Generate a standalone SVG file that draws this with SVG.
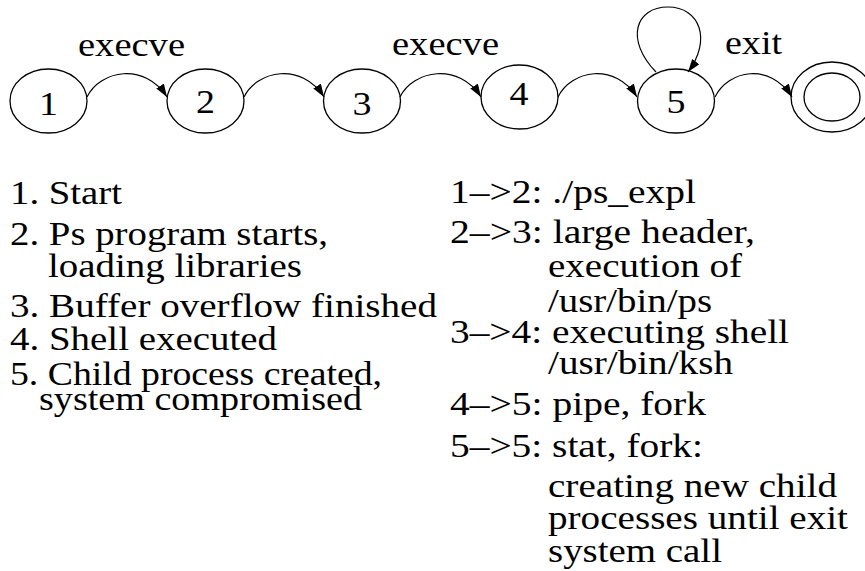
<svg xmlns="http://www.w3.org/2000/svg" width="865" height="571" viewBox="0 0 865 571" font-family="Liberation Serif, Tinos, DejaVu Serif, Noto Serif, serif">
<style>
.n{fill:none;stroke:#000;stroke-width:1.3}
.e{fill:none;stroke:#000;stroke-width:1.2}
text{font-family:"Liberation Serif",Tinos,"DejaVu Serif","Noto Serif",serif;font-size:34px;fill:#000}
.c{text-anchor:middle}
</style>
<defs>
<marker id="ah" markerUnits="userSpaceOnUse" markerWidth="14" markerHeight="10" refX="13" refY="4.5" orient="auto">
<path d="M0,0 L13,4.5 L0,9 z" fill="#000"/>
</marker>
</defs>
<rect width="865" height="571" fill="#fff"/>
<g id="n1"><ellipse class="n" cx="48.5" cy="101" rx="38.5" ry="32"/><text class="c" x="48.5" y="115" textLength="19" lengthAdjust="spacingAndGlyphs">1</text></g>
<g id="n2"><ellipse class="n" cx="205.5" cy="101" rx="38.5" ry="32"/><text class="c" x="205.5" y="113" textLength="19" lengthAdjust="spacingAndGlyphs">2</text></g>
<g id="n3"><ellipse class="n" cx="362" cy="101" rx="38.5" ry="32"/><text class="c" x="362" y="115" textLength="19" lengthAdjust="spacingAndGlyphs">3</text></g>
<g id="n4"><ellipse class="n" cx="519.5" cy="97" rx="38.5" ry="32"/><text class="c" x="519" y="105" textLength="19" lengthAdjust="spacingAndGlyphs">4</text></g>
<g id="n5"><ellipse class="n" cx="676" cy="101" rx="38.5" ry="32"/><text class="c" x="676" y="113" textLength="19" lengthAdjust="spacingAndGlyphs">5</text></g>
<g id="nf"><ellipse class="n" cx="832" cy="97" rx="41" ry="35"/><ellipse class="n" cx="832" cy="97" rx="28" ry="24"/></g>
<g id="connectors">
<path class="e" marker-end="url(#ah)" d="M87 97 C100 70,145 62,167 97"/>
<path class="e" marker-end="url(#ah)" d="M244 97 C257 70,302 62,324 97"/>
<path class="e" marker-end="url(#ah)" d="M400 97 C413 70,459 62,481 97"/>
<path class="e" marker-end="url(#ah)" d="M558 97 C571 70,615 62,637 97"/>
<path class="e" marker-end="url(#ah)" d="M715 97 C728 70,770 62,792 97"/>
<path class="e" marker-end="url(#ah)" d="M656 72 C625 40,635 7,668 7 C700 7,712 40,688 72"/>
<text class="c" x="131.5" y="56" textLength="107" lengthAdjust="spacingAndGlyphs">execve</text>
<text class="c" x="445.5" y="55" textLength="107" lengthAdjust="spacingAndGlyphs">execve</text>
<text class="c" x="753.5" y="54" textLength="57" lengthAdjust="spacingAndGlyphs">exit</text>
</g>
<g id="states">
<text x="10" y="204" textLength="112" lengthAdjust="spacingAndGlyphs">1. Start</text>
<text x="10" y="245" textLength="318" lengthAdjust="spacingAndGlyphs">2. Ps program starts,</text>
<text x="48" y="277" textLength="254" lengthAdjust="spacingAndGlyphs">loading libraries</text>
<text x="10" y="317" textLength="427" lengthAdjust="spacingAndGlyphs">3. Buffer overflow finished</text>
<text x="10" y="350" textLength="267" lengthAdjust="spacingAndGlyphs">4. Shell executed</text>
<text x="10" y="385" textLength="372" lengthAdjust="spacingAndGlyphs">5. Child process created,</text>
<text x="39" y="410" textLength="323" lengthAdjust="spacingAndGlyphs">system compromised</text>
</g>
<g id="transitions">
<text x="450" y="203" textLength="246" lengthAdjust="spacingAndGlyphs">1–&gt;2: ./ps_expl</text>
<text x="450" y="243" textLength="305" lengthAdjust="spacingAndGlyphs">2–&gt;3: large header,</text>
<text x="548" y="277" textLength="194" lengthAdjust="spacingAndGlyphs">execution of</text>
<text x="548" y="312" textLength="164" lengthAdjust="spacingAndGlyphs">/usr/bin/ps</text>
<text x="450" y="343" textLength="339" lengthAdjust="spacingAndGlyphs">3–&gt;4: executing shell</text>
<text x="548" y="374" textLength="185" lengthAdjust="spacingAndGlyphs">/usr/bin/ksh</text>
<text x="450" y="415" textLength="256" lengthAdjust="spacingAndGlyphs">4–&gt;5: pipe, fork</text>
<text x="450" y="457" textLength="253" lengthAdjust="spacingAndGlyphs">5–&gt;5: stat, fork:</text>
<text x="548" y="497" textLength="289" lengthAdjust="spacingAndGlyphs">creating new child</text>
<text x="548" y="529" textLength="300" lengthAdjust="spacingAndGlyphs">processes until exit</text>
<text x="548" y="562" textLength="174" lengthAdjust="spacingAndGlyphs">system call</text>
</g>
</svg>
